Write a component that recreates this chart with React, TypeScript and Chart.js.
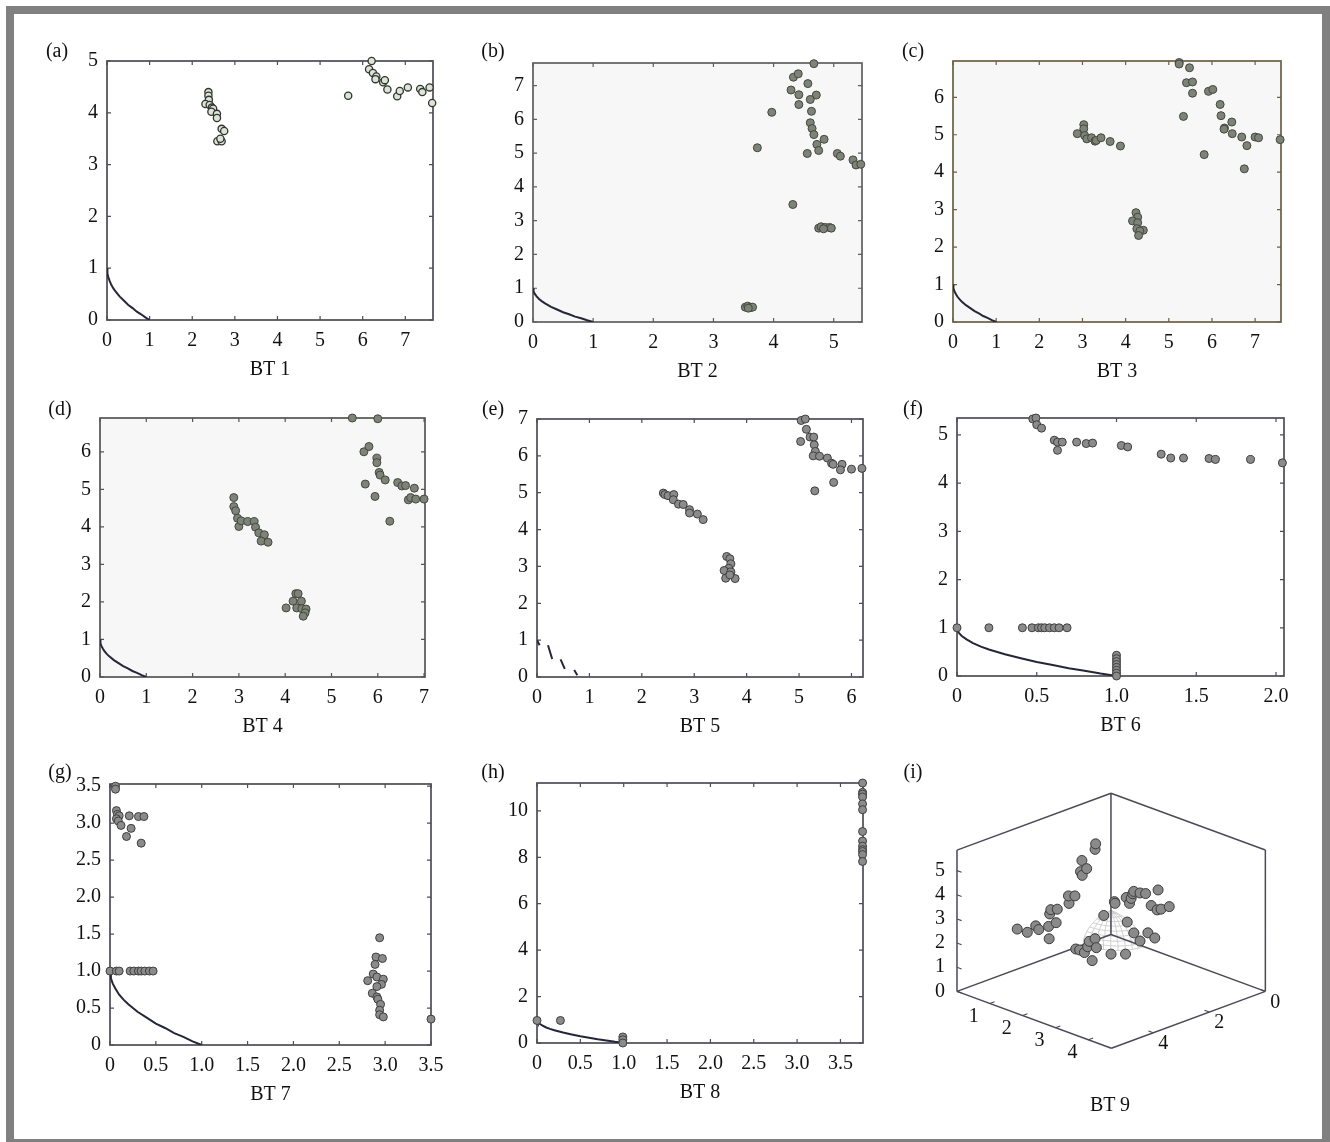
import React, { useEffect, useRef } from "react";
import { Chart, registerables } from "chart.js";
Chart.register(...registerables);

const FONT = "'Liberation Serif', 'Times New Roman', serif";
const TXT = "#111111";
const FS = 20;

// ---------- Pareto-front reference curves ----------
const PF_X = [0, 0.01, 0.03, 0.06, 0.1, 0.15, 0.2, 0.3, 0.4, 0.5, 0.6, 0.7, 0.8, 0.9, 1.0];
const PF_Y = [1, 0.9, 0.83, 0.76, 0.68, 0.61, 0.55, 0.45, 0.37, 0.29, 0.23, 0.16, 0.11, 0.05, 0];
const E_PF_X = [0, 0.05, null, 0.21, 0.29, null, 0.45, 0.53, null, 0.71, 0.77];
const E_PF_Y = [1.0, 0.86, null, 0.86, 0.49, null, 0.48, 0.22, null, 0.19, 0.05];

// ---------- BT 1 ----------
const A_X = [2.38, 2.38, 2.39, 2.31, 2.41, 2.46, 2.49, 2.45, 2.58, 2.58, 2.69, 2.75, 2.59, 2.69, 2.66,
  5.66, 6.21, 6.15, 6.24, 6.32, 6.3, 6.48, 6.52, 6.58, 6.81, 6.87, 7.06, 7.35, 7.4, 7.57, 7.63];
const A_Y = [4.4, 4.33, 4.25, 4.17, 4.15, 4.1, 4.08, 4.02, 3.98, 3.9, 3.69, 3.65, 3.45, 3.45, 3.5,
  4.33, 5.0, 4.84, 4.77, 4.7, 4.65, 4.59, 4.63, 4.45, 4.32, 4.42, 4.49, 4.46, 4.4, 4.49, 4.19];

// ---------- BT 2 ----------
const B_X = [4.67, 4.33, 4.41, 4.57, 4.29, 4.42, 4.71, 4.61, 4.42, 3.97, 4.63, 4.61, 4.64, 4.67, 4.84, 4.72, 4.75, 4.56, 3.73, 5.06, 5.11, 5.32, 5.37, 5.45, 4.32,
  4.75, 4.79, 4.86, 4.93, 4.96, 4.83, 3.53, 3.57, 3.62, 3.65, 3.58];
const B_Y = [7.65, 7.25, 7.35, 7.06, 6.87, 6.73, 6.72, 6.59, 6.44, 6.21, 6.24, 5.9, 5.73, 5.55, 5.41, 5.26, 5.08, 4.99, 5.16, 4.99, 4.91, 4.8, 4.65, 4.67, 3.48,
  2.78, 2.82, 2.8, 2.8, 2.78, 2.76, 0.44, 0.47, 0.43, 0.44, 0.41];

// ---------- BT 3 ----------
const C_X = [5.24, 5.24, 5.48, 5.41, 5.55, 5.55, 5.34, 5.92, 6.02, 6.19, 6.21, 6.29, 6.28, 6.46, 6.47, 6.69, 6.81, 7.0, 7.08, 7.58, 5.82, 6.75,
  2.88, 3.03, 3.03, 3.05, 3.1, 3.21, 3.29, 3.32, 3.43, 3.64, 3.88,
  4.24, 4.28, 4.16, 4.28, 4.26, 4.41, 4.33, 4.3];
const C_Y = [6.93, 6.89, 6.79, 6.39, 6.41, 6.11, 5.49, 6.16, 6.21, 5.81, 5.51, 5.18, 5.15, 5.34, 5.03, 4.94, 4.71, 4.94, 4.92, 4.87, 4.47, 4.09,
  5.03, 5.27, 5.16, 4.98, 4.89, 4.92, 4.83, 4.85, 4.92, 4.82, 4.7,
  2.92, 2.8, 2.7, 2.65, 2.49, 2.45, 2.43, 2.31];

// ---------- BT 4 ----------
const D_X = [5.45, 6.0, 5.7, 5.81, 5.98, 5.98, 6.03, 6.05, 6.16, 5.73, 5.94, 6.43, 6.52, 6.6, 6.79, 6.66, 6.71, 6.82, 7.0, 6.26,
  2.89, 2.89, 2.93, 2.97, 3.0, 3.05, 3.19, 3.33, 3.36, 3.43, 3.55, 3.48, 3.63,
  4.23, 4.28, 4.17, 4.35, 4.25, 4.02, 4.36, 4.45, 4.43, 4.39];
const D_Y = [6.9, 6.88, 6.0, 6.14, 5.83, 5.71, 5.45, 5.38, 5.25, 5.14, 4.81, 5.18, 5.09, 5.1, 5.03, 4.72, 4.78, 4.74, 4.74, 4.15,
  4.78, 4.54, 4.43, 4.23, 4.01, 4.16, 4.14, 4.14, 3.99, 3.84, 3.79, 3.62, 3.59,
  2.22, 2.22, 2.02, 2.02, 1.84, 1.84, 1.82, 1.81, 1.71, 1.62];

// ---------- BT 5 ----------
const E_X = [5.04, 5.12, 5.14, 5.21, 5.28, 5.03, 5.29, 5.31, 5.27, 5.39, 5.54, 5.62, 5.65, 5.82, 5.79, 6.0, 6.2, 5.66, 5.3,
  2.41, 2.44, 2.5, 2.61, 2.6, 2.7, 2.79, 2.91, 2.91, 3.06, 3.17,
  3.62, 3.68, 3.7, 3.66, 3.57, 3.7, 3.6, 3.78, 3.68];
const E_Y = [6.96, 7.0, 6.72, 6.51, 6.51, 6.39, 6.3, 6.12, 6.0, 5.99, 5.94, 5.8, 5.77, 5.77, 5.62, 5.64, 5.66, 5.28, 5.05,
  4.99, 4.95, 4.92, 4.95, 4.81, 4.69, 4.68, 4.54, 4.45, 4.42, 4.27,
  3.27, 3.21, 3.07, 2.95, 2.89, 2.85, 2.68, 2.67, 2.77];

// ---------- BT 6 ----------
const F_X = [0.475, 0.495, 0.5, 0.53, 0.61, 0.63, 0.63, 0.66, 0.75, 0.81, 0.85, 1.03, 1.07, 1.28, 1.34, 1.42, 1.58, 1.62, 1.84, 2.04,
  0, 0.2, 0.41, 0.47, 0.51, 0.53, 0.55, 0.58, 0.61, 0.64, 0.69,
  1, 1, 1, 1, 1, 1, 1, 1];
const F_Y = [5.33, 5.35, 5.21, 5.14, 4.89, 4.85, 4.68, 4.85, 4.85, 4.82, 4.83, 4.78, 4.75, 4.6, 4.52, 4.52, 4.51, 4.49, 4.49, 4.42,
  1, 1, 1, 1, 1, 1, 1, 1, 1, 1, 1,
  0.43, 0.36, 0.3, 0.24, 0.18, 0.12, 0.06, 0];

// ---------- BT 7 ----------
const G_X = [0.06, 0.06, 0.07, 0.08, 0.1, 0.07, 0.09, 0.12, 0.21, 0.31, 0.37, 0.23, 0.18, 0.34,
  0, 0.07, 0.1, 0.22, 0.26, 0.31, 0.34, 0.38, 0.43, 0.47,
  2.94, 2.9, 2.97, 2.89, 2.87, 2.91, 2.98, 2.81, 2.96, 2.91, 2.86, 2.91, 2.92, 2.95, 2.94, 2.94, 2.98, 3.5];
const G_Y = [3.5, 3.46, 3.17, 3.12, 3.1, 3.06, 3.03, 2.97, 3.1, 3.09, 3.09, 2.93, 2.82, 2.73,
  1, 1, 1, 1, 1, 1, 1, 1, 1, 1,
  1.45, 1.19, 1.17, 1.09, 0.96, 0.92, 0.89, 0.87, 0.82, 0.79, 0.7, 0.65, 0.62, 0.55, 0.47, 0.41, 0.38, 0.35];

// ---------- BT 8 ----------
const H_X = [0, 0.27, 0.99, 0.99, 0.99,
  3.755, 3.755, 3.755, 3.755, 3.755, 3.755, 3.755, 3.755, 3.755, 3.755, 3.755, 3.755, 3.755];
const H_Y = [0.97, 0.97, 0.26, 0.14, 0.0,
  11.2, 10.8, 10.72, 10.6, 10.3, 10.05, 9.11, 8.7, 8.48, 8.33, 8.25, 8.12, 7.82];

// ---------- BT 9 (three objectives) ----------
const I_A = [0.3, 0.3, 0.3, 0.3, 0.3, 0.3, 0.3, 0.3, 0.3, 0.3, 0.3, 0.3, 0.3, 0.3, 0.3, 0.3, 0.3, 0.3, 0.3,
  0.36, 0.46, 0.64, 0.45, 0.25, 0.23, 0.62, 1.09, 1.11, 1.33, 0.3,
  0.36, 0.38, 0.72, 0.82, 0.87, 0.92, 0.95, 1.14, 1.31, 1.69, 1.48, 1.66, 1.78, 2.03, 0.75, 0.95, 1.14, 1.38, 1.59];
const I_B = [3.7, 3.34, 3.04, 2.93, 2.58, 2.56, 2.31, 2.54, 2.5, 2.27, 1.85, 1.87, 1.64, 1.39, 1.44, 1.38, 1.22, 0.92, 0.9,
  1.68, 1.66, 1.7, 1.36, 1.07, 0.84, 1.25, 1.95, 1.3, 1.04, 0.61,
  0.3, 0.3, 0.3, 0.3, 0.3, 0.3, 0.3, 0.3, 0.3, 0.3, 0.3, 0.3, 0.3, 0.3, 0.3, 0.3, 0.3, 0.3, 0.3];
const I_C = [1.96, 1.67, 1.81, 1.61, 1.59, 1.07, 1.63, 2.09, 2.25, 2.17, 2.23, 2.55, 2.45, 3.81, 3.37, 3.19, 3.4, 4.07, 4.29,
  0.3, 0.3, 0.3, 0.3, 0.3, 0.3, 0.3, 0.3, 0.3, 0.3, 1.2,
  1.67, 1.61, 2.02, 1.83, 2.06, 2.28, 2.39, 2.42, 2.48, 2.82, 2.07, 1.98, 2.07, 2.3, 1.02, 0.67, 0.43, 0.89, 0.78];
const I_Z_TICKS = [0, 1, 2, 3, 4, 5];
const I_A_TICKS = [1, 2, 3, 4];
const I_B_TICKS = [0, 2, 4];
const SPHERE_AZ = [0, 10, 20, 30, 40, 50, 60, 70, 80, 90];
const SPHERE_EL = [0, 10, 20, 30, 40, 50, 60, 70, 80, 90];

// ---------- layout / style ----------
const fmtInt = (v: number) => String(Math.round(v));
const fmtHalf = (v: number) => (Math.abs(v) < 1e-9 ? "0" : v.toFixed(1));

type Panel = {
  letter: string; title: string;
  left: number; top: number; right: number; bottom: number;
  xMax: number; yMax: number; xStep: number; yStep: number;
  xFmt: (v: number) => string; yFmt: (v: number) => string;
  xs: number[]; ys: number[]; pfx: (number | null)[]; pfy: (number | null)[];
  bg: string; frame: string; fill: string; stroke: string; r: number; bw: number;
  lx: number; ly: number;
};

const GREEN_FILL = "#7d8377";
const GREEN_EDGE = "#44483f";
const GRAY_FILL = "#8b8b8b";
const GRAY_EDGE = "#3f3f3f";

const PANELS: Panel[] = [
  { letter: "(a)", title: "BT 1", left: 107, top: 60, right: 433, bottom: 320, xMax: 7.65, yMax: 5.0, xStep: 1, yStep: 1, xFmt: fmtInt, yFmt: fmtInt,
    xs: A_X, ys: A_Y, pfx: PF_X, pfy: PF_Y, bg: "#ffffff", frame: "#4c4c56", fill: "#dbe5d3", stroke: "#333333", r: 3.6, bw: 1.3, lx: 57, ly: 50 },
  { letter: "(b)", title: "BT 2", left: 533, top: 62, right: 862, bottom: 322, xMax: 5.47, yMax: 7.67, xStep: 1, yStep: 1, xFmt: fmtInt, yFmt: fmtInt,
    xs: B_X, ys: B_Y, pfx: PF_X, pfy: PF_Y, bg: "#f7f7f7", frame: "#5e5e5e", fill: GREEN_FILL, stroke: GREEN_EDGE, r: 4, bw: 1, lx: 493, ly: 50 },
  { letter: "(c)", title: "BT 3", left: 953, top: 60, right: 1281, bottom: 322, xMax: 7.6, yMax: 6.97, xStep: 1, yStep: 1, xFmt: fmtInt, yFmt: fmtInt,
    xs: C_X, ys: C_Y, pfx: PF_X, pfy: PF_Y, bg: "#f7f7f7", frame: "#6b5f45", fill: GREEN_FILL, stroke: GREEN_EDGE, r: 4, bw: 1, lx: 913, ly: 50 },
  { letter: "(d)", title: "BT 4", left: 100, top: 417, right: 425, bottom: 677, xMax: 7.02, yMax: 6.9, xStep: 1, yStep: 1, xFmt: fmtInt, yFmt: fmtInt,
    xs: D_X, ys: D_Y, pfx: PF_X, pfy: PF_Y, bg: "#f7f7f7", frame: "#555555", fill: GREEN_FILL, stroke: GREEN_EDGE, r: 4, bw: 1, lx: 60, ly: 408 },
  { letter: "(e)", title: "BT 5", left: 537, top: 418, right: 863, bottom: 677, xMax: 6.22, yMax: 7.0, xStep: 1, yStep: 1, xFmt: fmtInt, yFmt: fmtInt,
    xs: E_X, ys: E_Y, pfx: E_PF_X, pfy: E_PF_Y, bg: "#ffffff", frame: "#4d4d58", fill: GRAY_FILL, stroke: GRAY_EDGE, r: 4, bw: 1, lx: 493, ly: 408 },
  { letter: "(f)", title: "BT 6", left: 957, top: 417, right: 1284, bottom: 676, xMax: 2.05, yMax: 5.35, xStep: 0.5, yStep: 1, xFmt: fmtHalf, yFmt: fmtInt,
    xs: F_X, ys: F_Y, pfx: PF_X, pfy: PF_Y, bg: "#ffffff", frame: "#4d4d58", fill: GRAY_FILL, stroke: GRAY_EDGE, r: 4, bw: 1, lx: 913, ly: 408 },
  { letter: "(g)", title: "BT 7", left: 110, top: 783, right: 431, bottom: 1045, xMax: 3.5, yMax: 3.53, xStep: 0.5, yStep: 0.5, xFmt: fmtHalf, yFmt: fmtHalf,
    xs: G_X, ys: G_Y, pfx: PF_X, pfy: PF_Y, bg: "#ffffff", frame: "#4d4d58", fill: GRAY_FILL, stroke: GRAY_EDGE, r: 4, bw: 1, lx: 60, ly: 771 },
  { letter: "(h)", title: "BT 8", left: 537, top: 782, right: 863, bottom: 1043, xMax: 3.76, yMax: 11.2, xStep: 0.5, yStep: 2, xFmt: fmtHalf, yFmt: fmtInt,
    xs: H_X, ys: H_Y, pfx: PF_X, pfy: PF_Y, bg: "#ffffff", frame: "#4d4d58", fill: GRAY_FILL, stroke: GRAY_EDGE, r: 4, bw: 1, lx: 493, ly: 771 },
];

const PAD_L = 60, PAD_T = 20, PAD_R = 24, X_H = 70;

const framePlugin = {
  id: "frame",
  beforeDraw(chart: any, _a: any, opts: any) {
    const { ctx, chartArea: ca } = chart;
    ctx.save();
    ctx.fillStyle = opts.bg;
    ctx.fillRect(ca.left, ca.top, ca.right - ca.left, ca.bottom - ca.top);
    ctx.restore();
  },
  beforeDatasetsDraw(chart: any, _a: any, opts: any) {
    const { ctx, chartArea: ca, scales } = chart;
    ctx.save();
    ctx.strokeStyle = opts.color;
    ctx.lineWidth = 1.7;
    ctx.strokeRect(ca.left, ca.top, ca.right - ca.left, ca.bottom - ca.top);
    ctx.lineWidth = 1.2;
    const L = 4;
    ctx.beginPath();
    scales.x.ticks.forEach((t: any) => {
      const px = scales.x.getPixelForValue(t.value);
      ctx.moveTo(px, ca.bottom); ctx.lineTo(px, ca.bottom - L);
      ctx.moveTo(px, ca.top); ctx.lineTo(px, ca.top + L);
    });
    scales.y.ticks.forEach((t: any) => {
      const py = scales.y.getPixelForValue(t.value);
      ctx.moveTo(ca.left, py); ctx.lineTo(ca.left + L, py);
      ctx.moveTo(ca.right, py); ctx.lineTo(ca.right - L, py);
    });
    ctx.stroke();
    ctx.restore();
  },
};

const letterStyle = (x: number, y: number): React.CSSProperties => ({
  position: "absolute", left: x, top: y, transform: "translate(-50%, -50%)",
  fontFamily: FONT, fontSize: FS, lineHeight: 1, color: TXT, whiteSpace: "nowrap",
});

function PanelChart({ p }: { p: Panel }) {
  const ref = useRef<HTMLCanvasElement>(null);
  const W = p.right - p.left + PAD_L + PAD_R;
  const H = p.bottom - p.top + PAD_T + X_H;
  useEffect(() => {
    const tickFont = { family: FONT, size: FS };
    const chart = new Chart(ref.current as HTMLCanvasElement, {
      type: "scatter",
      data: {
        datasets: [
          {
            data: p.xs.map((x, i) => ({ x, y: p.ys[i] })),
            pointRadius: p.r, pointHoverRadius: p.r,
            pointBackgroundColor: p.fill, pointBorderColor: p.stroke, pointBorderWidth: p.bw,
            showLine: false, clip: false,
          } as any,
          {
            data: p.pfx.map((x, i) => ({ x, y: p.pfy[i] })),
            showLine: true, pointRadius: 0, borderColor: "#26263a", borderWidth: 2,
            spanGaps: false, tension: 0,
          } as any,
        ],
      },
      options: {
        animation: false, responsive: false, maintainAspectRatio: false, events: [],
        layout: { padding: { left: 0, top: PAD_T, right: PAD_R, bottom: 0 } },
        plugins: { legend: { display: false }, tooltip: { enabled: false }, frame: { bg: p.bg, color: p.frame } } as any,
        scales: {
          x: {
            type: "linear", min: 0, max: p.xMax,
            afterFit: (s: any) => { s.height = X_H; },
            grid: { display: false, drawTicks: false }, border: { display: false },
            ticks: { stepSize: p.xStep, includeBounds: false, autoSkip: false, maxRotation: 0, padding: 9, color: TXT, font: tickFont,
              callback: (v: any) => p.xFmt(Number(v)) },
            title: { display: true, text: p.title, color: TXT, font: tickFont, padding: { top: 0, bottom: 8 } },
          },
          y: {
            type: "linear", min: 0, max: p.yMax,
            afterFit: (s: any) => { s.width = PAD_L; },
            grid: { display: false, drawTicks: false }, border: { display: false },
            ticks: { stepSize: p.yStep, includeBounds: false, autoSkip: false, padding: 9, color: TXT, font: tickFont,
              callback: (v: any) => p.yFmt(Number(v)) },
          },
        },
      } as any,
      plugins: [framePlugin],
    });
    return () => chart.destroy();
  }, []);
  return (
    <>
      <canvas ref={ref} width={W} height={H}
        style={{ position: "absolute", left: p.left - PAD_L, top: p.top - PAD_T, width: W, height: H }} />
      <div style={letterStyle(p.lx, p.ly)}>{p.letter}</div>
    </>
  );
}

// ---------- 3D panel ----------
const AMAX = 4.7, BMAX = 5.5, CMAX = 5.85;
const VA = [33.98, 12.55], VB = [-28.96, 10.73], VC = -25.06;
const proj = (a: number, b: number, c: number) => ({ x: VA[0] * a + VB[0] * b, y: VA[1] * a + VB[1] * b + VC * c });

const C3_LEFT = 930, C3_TOP = 775, C3_W = 360, C3_H = 330;
const ORIGIN_X = 1111, ORIGIN_Y = 934.3;

const axes3DPlugin = {
  id: "axes3d",
  afterDatasetsDraw(chart: any) {
    const { ctx, scales } = chart;
    const P = (a: number, b: number, c: number) => {
      const q = proj(a, b, c);
      return [scales.x.getPixelForValue(q.x), scales.y.getPixelForValue(q.y)];
    };
    ctx.save();
    ctx.strokeStyle = "#4a4a58";
    ctx.lineWidth = 1.1;
    ctx.beginPath();
    I_Z_TICKS.forEach((c) => { const [x0, y0] = P(0, BMAX, c); const [x1, y1] = P(0.14, BMAX, c); ctx.moveTo(x0, y0); ctx.lineTo(x1, y1); });
    I_A_TICKS.forEach((a) => { const [x0, y0] = P(a, BMAX, 0); const [x1, y1] = P(a, BMAX - 0.17, 0); ctx.moveTo(x0, y0); ctx.lineTo(x1, y1); });
    I_B_TICKS.forEach((b) => { const [x0, y0] = P(AMAX, b, 0); const [x1, y1] = P(AMAX - 0.15, b, 0); ctx.moveTo(x0, y0); ctx.lineTo(x1, y1); });
    ctx.stroke();
    ctx.fillStyle = TXT;
    ctx.font = `${FS}px ${FONT}`;
    ctx.textBaseline = "middle";
    ctx.textAlign = "right";
    I_Z_TICKS.forEach((c) => { const [x, y] = P(0, BMAX, c); ctx.fillText(String(c), x - 12, y); });
    ctx.textAlign = "center";
    I_A_TICKS.forEach((a) => { const [x, y] = P(a, BMAX, 0); ctx.fillText(String(a), x - 16, y + 13); });
    I_B_TICKS.forEach((b) => { const [x, y] = P(AMAX, b, 0); ctx.fillText(String(b), x + 10, y + 11); });
    ctx.restore();
  },
};

function Chart3D() {
  const ref = useRef<HTMLCanvasElement>(null);
  useEffect(() => {
    const ox = ORIGIN_X - C3_LEFT, oy = ORIGIN_Y - C3_TOP;
    const sphere: any[] = [];
    SPHERE_AZ.forEach((az) => {
      const f = (az * Math.PI) / 180;
      sphere.push({
        data: SPHERE_EL.map((el) => { const t = (el * Math.PI) / 180; return proj(Math.cos(t) * Math.cos(f), Math.cos(t) * Math.sin(f), Math.sin(t)); }),
        showLine: true, pointRadius: 0, borderColor: "#c6c6c6", borderWidth: 0.8, tension: 0,
      });
    });
    SPHERE_EL.slice(0, -1).forEach((el) => {
      const t = (el * Math.PI) / 180;
      sphere.push({
        data: SPHERE_AZ.map((az) => { const f = (az * Math.PI) / 180; return proj(Math.cos(t) * Math.cos(f), Math.cos(t) * Math.sin(f), Math.sin(t)); }),
        showLine: true, pointRadius: 0, borderColor: "#c6c6c6", borderWidth: 0.8, tension: 0,
      });
    });
    const edges: [number, number, number][][] = [
      [[0, 0, 0], [0, 0, CMAX]],
      [[0, 0, 0], [AMAX, 0, 0]],
      [[0, 0, 0], [0, BMAX, 0]],
      [[0, BMAX, 0], [AMAX, BMAX, 0]],
      [[AMAX, 0, 0], [AMAX, BMAX, 0]],
      [[0, BMAX, 0], [0, BMAX, CMAX]],
      [[AMAX, 0, 0], [AMAX, 0, CMAX]],
      [[0, BMAX, CMAX], [0, 0, CMAX]],
      [[AMAX, 0, CMAX], [0, 0, CMAX]],
    ];
    const edgeData: any[] = [];
    edges.forEach((e) => {
      e.forEach((v) => edgeData.push(proj(v[0], v[1], v[2])));
      edgeData.push({ x: 0, y: null });
    });
    const chart = new Chart(ref.current as HTMLCanvasElement, {
      type: "scatter",
      data: {
        datasets: [
          {
            data: I_A.map((a, i) => proj(a, I_B[i], I_C[i])),
            pointRadius: 5, pointHoverRadius: 5, pointBackgroundColor: "#8a8a8a", pointBorderColor: "#3a3a3a", pointBorderWidth: 1,
            showLine: false, clip: false,
          } as any,
          { data: edgeData, showLine: true, spanGaps: false, pointRadius: 0, borderColor: "#4a4a58", borderWidth: 1.5, tension: 0 } as any,
          ...sphere,
        ],
      },
      options: {
        animation: false, responsive: false, maintainAspectRatio: false, events: [],
        layout: { padding: 0 },
        plugins: { legend: { display: false }, tooltip: { enabled: false } },
        scales: {
          x: { type: "linear", display: false, min: -ox, max: C3_W - ox },
          y: { type: "linear", display: false, reverse: true, min: -oy, max: C3_H - oy },
        },
      } as any,
      plugins: [axes3DPlugin],
    });
    return () => chart.destroy();
  }, []);
  return (
    <>
      <canvas ref={ref} width={C3_W} height={C3_H}
        style={{ position: "absolute", left: C3_LEFT, top: C3_TOP, width: C3_W, height: C3_H }} />
      <div style={letterStyle(913, 771)}>(i)</div>
      <div style={letterStyle(1110, 1104)}>BT 9</div>
    </>
  );
}

export default function App() {
  return (
    <div style={{ position: "fixed", left: 0, top: 0, width: 1330, height: 1142, overflow: "hidden", background: "#ffffff" }}>
      <div style={{ position: "absolute", left: 6, top: 6, width: 1324, height: 1141, boxSizing: "border-box", border: "8px solid #808080", background: "#ffffff" }} />
      {PANELS.map((p) => <PanelChart key={p.letter} p={p} />)}
      <Chart3D />
    </div>
  );
}
